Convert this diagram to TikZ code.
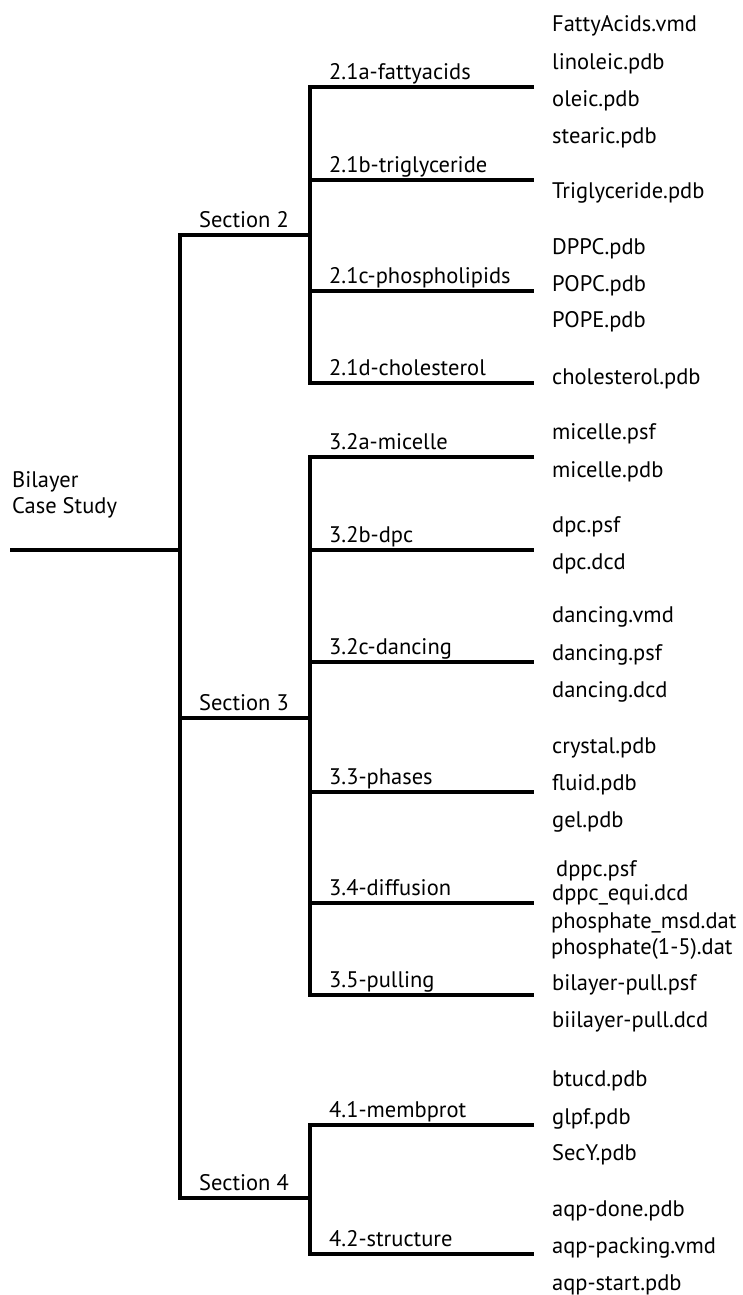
\documentclass[tikz,border=0pt]{standalone}
\usepackage{fontspec}
\setmainfont{PT Sans}
\newcommand{\fsz}{\fontsize{22.5bp}{26bp}\selectfont}
\begin{document}
\begin{tikzpicture}[x=1bp,y=-1bp,
  tree/.style={line width=3.2bp, line join=miter, black},
  lbl/.style={anchor=base west, inner sep=0pt, font=\fsz, text=black},
  file/.style={anchor=base west, inner sep=0pt, font=\fsz, text=black}]
\useasboundingbox (0,0) rectangle (743,1295);
% junction points
\coordinate (r0) at (10,550); \coordinate (r1) at (180,550);
\coordinate (s2a) at (180,235); \coordinate (s2b) at (310,235);
\coordinate (s3a) at (180,718); \coordinate (s3b) at (310,718);
\coordinate (s4a) at (180,1198); \coordinate (s4b) at (310,1198);
\foreach \n/\y in {a2/87,b2/180,c2/291,d2/383,a3/457,b3/550,c3/662,p3/792,f3/903,u3/995,m4/1125,t4/1254}{
  \coordinate (\n a) at (310,\y); \coordinate (\n b) at (534,\y);}
% tree lines
\draw[tree] (r0) -- (r1);
\draw[tree] (s2b) -- (s2a) -- (s4a) -- (s4b);
\draw[tree] (s3a) -- (s3b);
\draw[tree] (a2b) -- (a2a) -- (d2a) -- (d2b);
\draw[tree] (b2a) -- (b2b);
\draw[tree] (c2a) -- (c2b);
\draw[tree] (a3b) -- (a3a) -- (u3a) -- (u3b);
\draw[tree] (b3a) -- (b3b);
\draw[tree] (c3a) -- (c3b);
\draw[tree] (p3a) -- (p3b);
\draw[tree] (f3a) -- (f3b);
\draw[tree] (m4b) -- (m4a) -- (t4a) -- (t4b);
% root label
\node[lbl, align=left, anchor=base west] (root) at (12,513) {Bilayer\\Case Study};
% section labels
\node[lbl] (sec2) at ([shift={(19,-8)}]s2a) {Section 2};
\node[lbl] (sec3) at ([shift={(19,-8)}]s3a) {Section 3};
\node[lbl] (sec4) at ([shift={(19,-8)}]s4a) {Section 4};
% subsection labels
\node[lbl] (la2) at ([shift={(19,-8)}]a2a) {2.1a-fattyacids};
\node[lbl] (lb2) at ([shift={(19,-8)}]b2a) {2.1b-triglyceride};
\node[lbl] (lc2) at ([shift={(19,-8)}]c2a) {2.1c-phospholipids};
\node[lbl] (ld2) at ([shift={(19,-8)}]d2a) {2.1d-cholesterol};
\node[lbl] (la3) at ([shift={(19,-8)}]a3a) {3.2a-micelle};
\node[lbl] (lb3) at ([shift={(19,-8)}]b3a) {3.2b-dpc};
\node[lbl] (lc3) at ([shift={(19,-8)}]c3a) {3.2c-dancing};
\node[lbl] (lp3) at ([shift={(19,-8)}]p3a) {3.3-phases};
\node[lbl] (lf3) at ([shift={(19,-8)}]f3a) {3.4-diffusion};
\node[lbl] (lu3) at ([shift={(19,-8)}]u3a) {3.5-pulling};
\node[lbl] (lm4) at ([shift={(19,-8)}]m4a) {4.1-membprot};
\node[lbl] (lt4) at ([shift={(19,-8)}]t4a) {4.2-structure};
% files
\node[file] (f01) at (552,31) {FattyAcids.vmd};
\node[file] (f02) at (552,69) {linoleic.pdb};
\node[file] (f03) at (552,106) {oleic.pdb};
\node[file] (f04) at (552,143) {stearic.pdb};
\node[file] (f05) at (552,198) {Triglyceride.pdb};
\node[file] (f06) at (552,254) {DPPC.pdb};
\node[file] (f07) at (552,291) {POPC.pdb};
\node[file] (f08) at (552,327) {POPE.pdb};
\node[file] (f09) at (552,384) {cholesterol.pdb};
\node[file] (f10) at (552,439) {micelle.psf};
\node[file] (f11) at (552,477) {micelle.pdb};
\node[file] (f12) at (552,532) {dpc.psf};
\node[file] (f13) at (552,569) {dpc.dcd};
\node[file] (f14) at (552,622) {dancing.vmd};
\node[file] (f15) at (552,660) {dancing.psf};
\node[file] (f16) at (552,697) {dancing.dcd};
\node[file] (f17) at (552,753) {crystal.pdb};
\node[file] (f18) at (552,790) {fluid.pdb};
\node[file] (f19) at (552,827) {gel.pdb};
\node[file] (f20) at (556,876) {dppc.psf};
\node[file] (f21) at (552,900) {dppc\_equi.dcd};
\node[file] (f22) at (551,928) {phosphate\_msd.dat};
\node[file] (f23) at (551,954) {phosphate(1-5).dat};
\node[file] (f24) at (552,990) {bilayer-pull.psf};
\node[file] (f25) at (552,1027) {biilayer-pull.dcd};
\node[file] (f26) at (552,1086) {btucd.pdb};
\node[file] (f27) at (552,1124) {glpf.pdb};
\node[file] (f28) at (552,1160) {SecY.pdb};
\node[file] (f29) at (552,1216) {aqp-done.pdb};
\node[file] (f30) at (552,1253) {aqp-packing.vmd};
\node[file] (f31) at (552,1290) {aqp-start.pdb};
\end{tikzpicture}
\end{document}
